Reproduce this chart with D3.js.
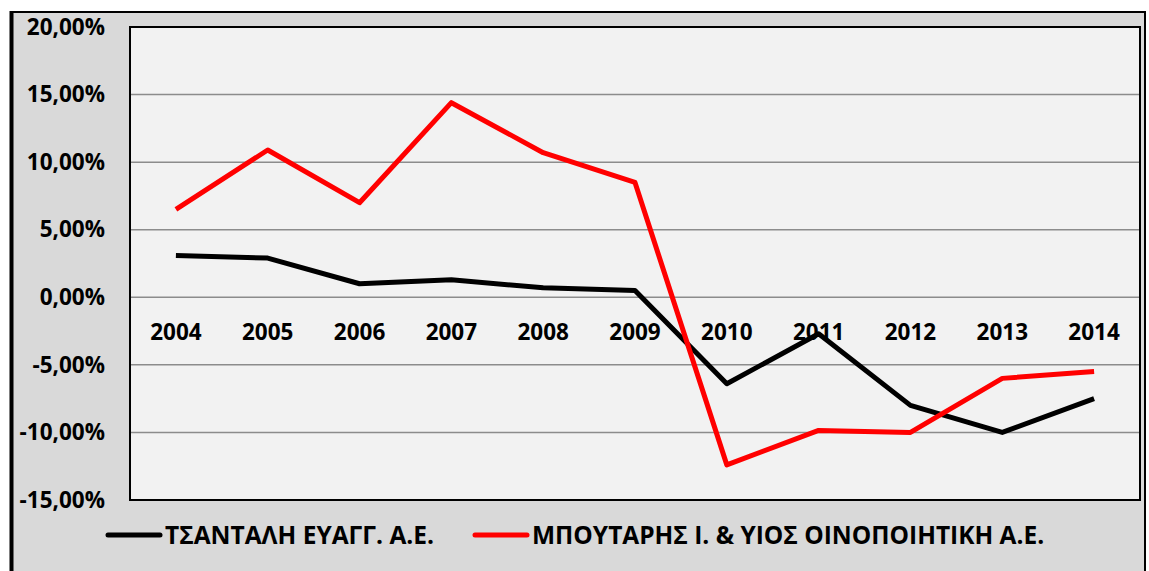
<!DOCTYPE html>
<html>
<head>
<meta charset="utf-8">
<script src="https://cdn.jsdelivr.net/npm/d3@7"></script>
<style>
  body { margin: 0; background: #fff; }
  svg { display: block; }
  text { font-family: "Open Sans", "DejaVu Sans", sans-serif; font-weight: bold; fill: #000; }
</style>
</head>
<body>
<svg id="chart" width="1149" height="571"></svg>
<script>
let years = ['2004', '2005', '2006', '2007', '2008', '2009', '2010', '2011', '2012', '2013', '2014']
let tsantaliValues = [3.1, 2.9, 1.0, 1.3, 0.7, 0.5, -6.4, -2.7, -8.0, -10.0, -7.5]
let boutarisValues = [6.5, 10.9, 7.0, 14.4, 10.7, 8.5, -12.4, -9.85, -10.0, -6.0, -5.5]
let yTicks = [20, 15, 10, 5, 0, -5, -10, -15]
let seriesNames = ['ΤΣΑΝΤΑΛΗ ΕΥΑΓΓ. Α.Ε.', 'ΜΠΟΥΤΑΡΗΣ Ι. & ΥΙΟΣ ΟΙΝΟΠΟΙΗΤΙΚΗ Α.Ε.']
let seriesColors = ['#000000', '#ff0000']

let svg = d3.select('#chart')

// outer chart box
svg.append('rect')
    .attr('x', 11).attr('y', 12)
    .attr('width', 1134).attr('height', 570)
    .attr('fill', '#d9d9d9')
    .attr('stroke', '#000')
    .attr('stroke-width', 2)
svg.append('line')
    .attr('x1', 11.5).attr('x2', 11.5)
    .attr('y1', 11).attr('y2', 571)
    .attr('stroke', '#000')
    .attr('stroke-width', 4)

let plot = { left: 130, top: 27, right: 1140, bottom: 500 }

let x = d3.scaleBand()
    .domain(years)
    .range([plot.left, plot.right])

let y = d3.scaleLinear()
    .domain([-15, 20])
    .range([plot.bottom, plot.top])

svg.append('rect')
    .attr('x', plot.left).attr('y', plot.top)
    .attr('width', plot.right - plot.left)
    .attr('height', plot.bottom - plot.top)
    .attr('fill', '#f2f2f2')

// gridlines
svg.append('g')
    .selectAll('line')
    .data(yTicks.filter((t) => t !== 20 && t !== -15))
    .enter()
    .append('line')
    .attr('x1', plot.left).attr('x2', plot.right)
    .attr('y1', (t) => y(t)).attr('y2', (t) => y(t))
    .attr('stroke', '#8c8c8c')
    .attr('stroke-width', 1.5)

svg.append('rect')
    .attr('x', plot.left).attr('y', plot.top)
    .attr('width', plot.right - plot.left)
    .attr('height', plot.bottom - plot.top)
    .attr('fill', 'none')
    .attr('stroke', '#000')
    .attr('stroke-width', 2)

// y axis labels
let yAxis = d3.axisLeft(y)
    .tickValues(yTicks)
    .tickSize(0)
    .tickPadding(0)
    .tickFormat((d) => d.toFixed(2).replace('.', ',') + '%')

svg.append('g')
    .attr('transform', 'translate(105,0)')
    .call(yAxis)
    .call((g) => g.select('.domain').remove())
    .selectAll('text')
    .attr('font-size', 22.5)
    .attr('font-family', null)
    .attr('fill', '#000')

// x axis labels just below zero line
let xAxis = d3.axisBottom(x).tickSize(0).tickPadding(0)
svg.append('g')
    .attr('transform', 'translate(0,' + (y(0) + 27) + ')')
    .call(xAxis)
    .call((g) => g.select('.domain').remove())
    .selectAll('text')
    .attr('font-size', 22.5)
    .attr('font-family', null)
    .attr('fill', '#000')

let line = d3.line()
    .x((d, i) => x(years[i]) + x.bandwidth() / 2)
    .y((d) => y(d))

let allSeries = [tsantaliValues, boutarisValues]

svg.append('g')
    .selectAll('path')
    .data(allSeries)
    .enter()
    .append('path')
    .attr('d', line)
    .attr('fill', 'none')
    .attr('stroke', (d, i) => seriesColors[i])
    .attr('stroke-width', 5)
    .attr('stroke-linejoin', 'round')

// legend
let legendX = [106, 473]
let legend = svg.append('g')
    .selectAll('g')
    .data(seriesNames)
    .enter()
    .append('g')
    .attr('transform', (d, i) => 'translate(' + legendX[i] + ',535)')

legend.append('line')
    .attr('x1', 2).attr('x2', 54)
    .attr('stroke', (d, i) => seriesColors[i])
    .attr('stroke-width', 5)
    .attr('stroke-linecap', 'round')

legend.append('text')
    .attr('x', 59)
    .attr('dy', '0.36em')
    .attr('font-size', 24.5)
    .text((d) => d)
</script>
</body>
</html>
